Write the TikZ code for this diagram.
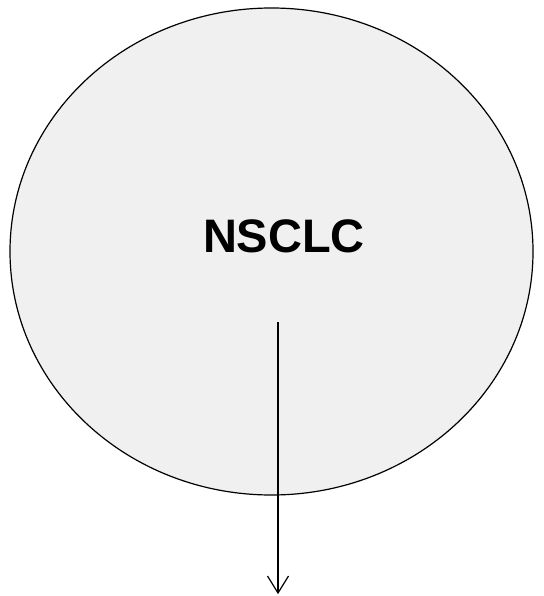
\documentclass[tikz,border=0pt]{standalone}
\usepackage{fontspec}
\setmainfont{Liberation Sans}
\usetikzlibrary{shapes.geometric,calc}
\definecolor{cellfill}{HTML}{F0F0F0}
\tikzset{
  cell/.style={ellipse, draw=black, line width=1.2pt, fill=cellfill, minimum width=523pt, minimum height=487pt, inner sep=0pt},
  lbl/.style={font=\bfseries\fontsize{47}{50}\selectfont, inner sep=0pt},
  conn/.style={draw=black, line width=1.2pt},
  barb/.style={draw=black, line width=1.2pt, line join=miter}
}
\begin{document}
\begin{tikzpicture}[x=1pt,y=1pt]
\useasboundingbox (0,0) rectangle (543,-596);
\node[cell] (nsclc) at (271.5,-251.5) {};
\node[lbl] (label) at (284,-236) {NSCLC};
\coordinate (start) at (278,-322);
\coordinate (end) at (278,-593);
\draw[conn] (start) -- (end);
\draw[barb] ($(end)+(-10.5,17)$) -- (end) -- ($(end)+(10.5,17)$);
\end{tikzpicture}
\end{document}
